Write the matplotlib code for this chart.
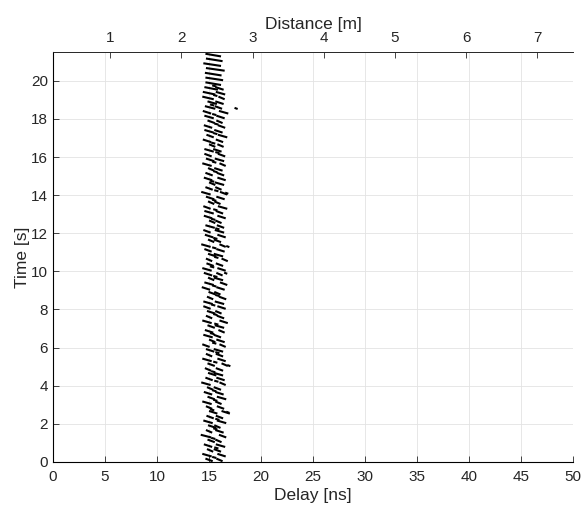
import numpy as np
import matplotlib.pyplot as plt
from matplotlib.collections import LineCollection

plt.rcParams['font.family'] = ['Liberation Sans', 'DejaVu Sans']

# time of each stripe row [s]
row_time = [0.1, 0.35, 0.6, 0.85, 1.1, 1.35, 1.6, 1.85, 2.1, 2.35,
            2.6, 2.85, 3.1, 3.35, 3.6, 3.85, 4.1, 4.35, 4.6, 4.85,
            5.1, 5.35, 5.6, 5.85, 6.1, 6.35, 6.6, 6.85, 7.1, 7.35,
            7.6, 7.85, 8.1, 8.35, 8.6, 8.85, 9.1, 9.35, 9.6, 9.85,
            10.1, 10.35, 10.6, 10.85, 11.1, 11.35, 11.6, 11.85, 12.1, 12.35,
            12.6, 12.85, 13.1, 13.35, 13.6, 13.85, 14.1, 14.35, 14.6, 14.85,
            15.1, 15.35, 15.6, 15.85, 16.1, 16.35, 16.6, 16.85, 17.1, 17.35,
            17.6, 17.85, 18.1, 18.35, 18.6, 18.85, 19.1, 19.35, 19.6, 19.85,
            20.1, 20.35, 20.6, 20.85, 21.1, 21.35]

# delay of left / right echo dash in each row [ns]
left_delay = [15.0, 14.8, 15.1, 14.9, 15.2, 14.7, 15.0, 15.3, 14.9, 15.1,
              15.4, 15.0, 14.8, 15.2, 14.9, 15.1, 14.7, 15.0, 15.3, 14.9,
              15.2, 14.8, 15.0, 15.1, 14.7, 15.3, 14.9, 15.0, 15.2, 14.8,
              15.0, 15.2, 14.8, 14.9, 15.1, 15.3, 14.7, 15.0, 15.2, 14.9,
              14.8, 15.1, 15.0, 15.3, 14.9, 14.7, 15.2, 15.0, 14.8, 15.1,
              15.3, 14.9, 15.0, 14.8, 15.2, 15.1, 14.7, 15.0, 15.3, 14.9,
              15.0, 15.2, 14.8, 15.1, 14.9, 15.0, 15.3, 14.8, 15.1, 15.0,
              14.9, 15.2, 15.0, 14.8, 15.1, 15.3, 14.9, 15.0, 15.2, 15.4,
              15.5, 15.4, 15.6, 15.3, 15.5, 15.4]
left_len = [0.7, 0.9, 0.6, 0.8, 0.7, 1.0, 0.6, 0.8, 0.9, 0.7,
            0.8, 0.6, 0.9, 0.7, 0.8, 0.6, 0.9, 0.7, 0.8, 0.6,
            0.7, 0.9, 0.6, 0.8, 0.7, 0.6, 0.9, 0.8, 0.7, 0.9,
            0.6, 0.8, 0.7, 0.9, 0.6, 0.7, 0.8, 0.9, 0.6, 0.8,
            0.9, 0.7, 0.6, 0.8, 0.7, 0.9, 0.6, 0.8, 0.7, 0.9,
            0.6, 0.8, 0.9, 0.7, 0.6, 0.8, 0.9, 0.7, 0.6, 0.8,
            0.7, 0.6, 0.9, 0.8, 0.7, 0.9, 0.6, 0.8, 0.7, 0.9,
            0.8, 0.7, 0.9, 0.8, 1.0, 0.9, 1.1, 1.2, 1.3, 1.5,
            1.7, 1.6, 1.8, 1.7, 1.6, 1.5]
right_delay = [16.0, 16.2, 15.8, 16.1, 15.9, 16.3, 16.0, 15.8, 16.2, 16.0,
               16.6, 16.1, 15.9, 16.2, 16.0, 15.8, 16.3, 16.1, 15.9, 16.0,
               16.5, 16.2, 16.0, 15.9, 16.3, 16.1, 15.8, 16.2, 16.0, 16.4,
               16.1, 15.9, 16.2, 16.0, 16.3, 15.8, 16.1, 16.4, 15.9, 16.0,
               16.2, 16.0, 16.5, 15.9, 16.1, 16.3, 15.8, 16.2, 16.0, 16.1,
               15.9, 16.2, 16.0, 16.3, 15.8, 16.1, 16.4, 15.9, 16.0, 16.2,
               16.1, 15.9, 16.3, 16.0, 16.2, 15.8, 16.1, 16.0, 16.3, 15.9,
               16.2, 16.0, 16.1, 16.4, 15.9, 16.0, 16.2, 16.1, 16.0, np.nan,
               np.nan, np.nan, np.nan, np.nan, np.nan, np.nan]
right_len = [0.6, 0.8, 0.7, 0.9, 0.6, 0.7, 0.8, 0.6, 0.9, 0.7,
             0.8, 0.7, 0.6, 0.9, 0.8, 0.7, 0.6, 0.8, 0.9, 0.7,
             0.6, 0.8, 0.7, 0.9, 0.6, 0.8, 0.7, 0.6, 0.9, 0.8,
             0.7, 0.6, 0.8, 0.9, 0.7, 0.6, 0.8, 0.7, 0.9, 0.6,
             0.8, 0.7, 0.6, 0.9, 0.8, 0.6, 0.7, 0.8, 0.9, 0.7,
             0.6, 0.8, 0.7, 0.9, 0.6, 0.8, 0.7, 0.6, 0.9, 0.8,
             0.7, 0.8, 0.6, 0.9, 0.7, 0.8, 0.6, 0.7, 0.9, 0.8,
             0.7, 0.6, 0.8, 0.9, 0.7, 0.8, 0.6, 0.9, 0.8, 0.0,
             0.0, 0.0, 0.0, 0.0, 0.0, 0.0]

# short echo fragments between the stripes
mid_time = [0.23, 0.73, 1.23, 1.73, 2.23, 2.73, 3.23, 3.73, 4.23, 4.73,
            5.23, 5.73, 6.23, 6.73, 7.23, 7.73, 8.23, 8.73, 9.23, 9.73,
            10.23, 10.73, 11.23, 11.73, 12.23, 12.73, 13.23, 13.73, 14.23, 14.73,
            15.23, 15.73, 16.23, 16.73, 17.23, 17.73, 18.23, 18.73, 19.23, 19.73]
mid_delay = [15.5, 15.7, 15.4, 15.6, 15.8, 15.3, 15.6, 15.5, 15.7, 15.4,
             15.6, 15.8, 15.5, 15.3, 15.7, 15.6, 15.4, 15.8, 15.5, 15.6,
             15.3, 15.7, 15.5, 15.6, 15.8, 15.4, 15.6, 15.5, 15.7, 15.3,
             15.6, 15.5, 15.8, 15.4, 15.6, 15.7, 15.5, 15.3, 15.6, 15.5]

# isolated echo points
extra_time = [18.55, 5.05, 2.6, 14.1, 9.9, 11.3]
extra_delay = [17.6, 16.9, 16.8, 16.7, 16.6, 16.8]

delay_ticks = [0, 5, 10, 15, 20, 25, 30, 35, 40, 45, 50]
time_ticks = [0, 2, 4, 6, 8, 10, 12, 14, 16, 18, 20]
dist_ticks = [1, 2, 3, 4, 5, 6, 7]

fig = plt.figure(figsize=(5.83, 5.12), dpi=100)
ax = fig.add_axes([0.091, 0.098, 0.892, 0.80])

segs = []
h = 0.07
for t, d, L in zip(row_time, left_delay, left_len):
    segs.append([(d - L / 2, t + h), (d + L / 2, t - h)])
for t, d, L in zip(row_time, right_delay, right_len):
    if not np.isnan(d) and L > 0:
        segs.append([(d - L / 2, t + h), (d + L / 2, t - h)])
for t, d in zip(mid_time, mid_delay):
    segs.append([(d - 0.2, t + 0.03), (d + 0.2, t - 0.03)])
for t, d in zip(extra_time, extra_delay):
    segs.append([(d - 0.15, t + 0.03), (d + 0.15, t - 0.03)])
ax.add_collection(LineCollection(segs, colors='black', linewidths=1.5, capstyle='butt'))

ax.set_xlim(0, 50)
ax.set_ylim(0, 21.5)
ax.set_xticks(delay_ticks)
ax.set_yticks(time_ticks)
ax.grid(True, color='#e3e3e3', linewidth=0.6)
ax.set_axisbelow(True)
ax.tick_params(direction='in', length=4, labelsize=11, colors='#262626', width=0.6)
ax.tick_params(axis='x', pad=6)
ax.set_xlabel('Delay [ns]', fontsize=12.5, color='#262626', labelpad=3)
ax.set_ylabel('Time [s]', fontsize=12.5, color='#262626', labelpad=1)
for s in ['left', 'bottom', 'top']:
    ax.spines[s].set_color('#262626')
    ax.spines[s].set_linewidth(0.6)
ax.spines['right'].set_visible(False)

ax2 = ax.twiny()
ax2.set_xlim(0.2, 7.5)
ax2.set_xticks(dist_ticks)
ax2.tick_params(direction='in', length=4, labelsize=11, colors='#262626', width=0.6, pad=5)
ax2.set_xlabel('Distance [m]', fontsize=12.5, color='#262626', labelpad=2)
ax2.spines['right'].set_visible(False)
ax2.spines['top'].set_color('#262626')
ax2.spines['top'].set_linewidth(0.6)

fig.savefig('out.png', dpi=100)
